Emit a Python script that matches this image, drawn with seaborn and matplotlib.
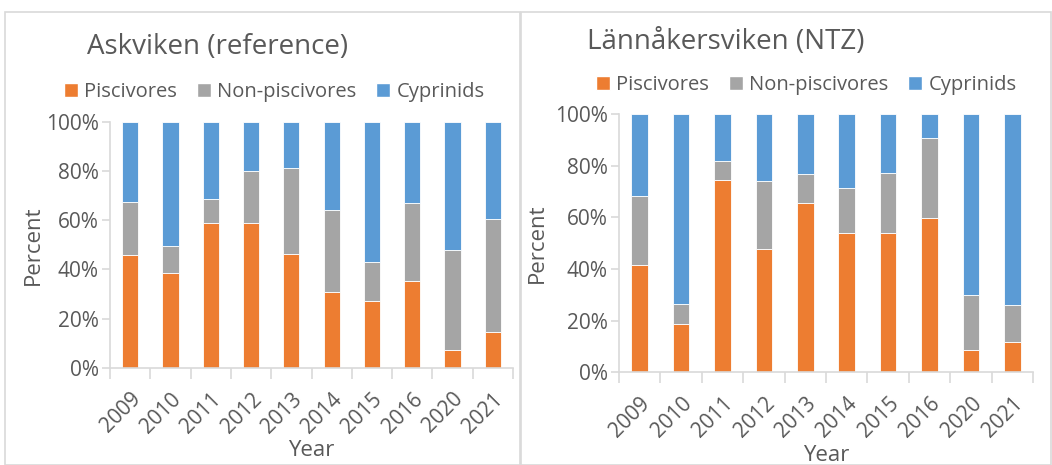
import matplotlib
matplotlib.use("Agg")
import matplotlib.pyplot as plt
import seaborn as sns
import numpy as np
from matplotlib.patches import Patch, Rectangle
from matplotlib.ticker import FuncFormatter, FixedLocator

years = ["2009", "2010", "2011", "2012", "2013", "2014", "2015", "2016", "2020", "2021"]
series = ["Piscivores", "Non-piscivores", "Cyprinids"]
colors = ["#ED7D31", "#A5A5A5", "#5B9BD5"]

# Askviken (reference), percent of catch
ask_pisc = [45.7, 38.5, 58.9, 58.7, 46.3, 30.6, 27.0, 35.4, 7.2, 14.4]
ask_nonp = [21.5, 10.8, 9.5, 21.1, 34.7, 33.4, 16.1, 31.7, 40.5, 46.0]
ask_cyp = [32.8, 50.7, 31.6, 20.2, 19.0, 36.0, 56.9, 32.9, 52.3, 39.6]

# Lännåkersviken (NTZ)
lan_pisc = [41.7, 18.8, 74.3, 47.6, 65.4, 53.8, 53.8, 59.7, 8.5, 11.6]
lan_nonp = [26.4, 7.5, 7.4, 26.3, 11.2, 17.4, 23.2, 30.9, 21.4, 14.5]
lan_cyp = [31.9, 73.7, 18.3, 26.1, 23.4, 28.8, 23.0, 9.4, 70.1, 73.9]

sns.set_theme(style="white")
plt.rcParams["font.family"] = ["Open Sans", "DejaVu Sans"]
txt = "#595959"
axc = "#D9D9D9"

fig = plt.figure(figsize=(10.52, 4.65), dpi=100)

# chart frames
fig.patches.append(Rectangle((5 / 1052, 0), 515 / 1052, 453 / 465, transform=fig.transFigure,
                             fill=False, edgecolor=axc, linewidth=1.2))
fig.patches.append(Rectangle((521 / 1052, 0), 530 / 1052, 453 / 465, transform=fig.transFigure,
                             fill=False, edgecolor=axc, linewidth=1.2))

ax1 = fig.add_axes([110 / 1052, 1 - 367.7 / 465, 403 / 1052, 246 / 465])
ax2 = fig.add_axes([619 / 1052, 1 - 372.3 / 465, 414 / 1052, 258.3 / 465])

panels = [
    (ax1, "Askviken (reference)", [ask_pisc, ask_nonp, ask_cyp], (87, 47), (274, 92), 33, 450),
    (ax2, "Lännåkersviken (NTZ)", [lan_pisc, lan_nonp, lan_cyp], (587, 42), (806, 85), 537, 455),
]

for ax, title, vals, tpos, lpos, ylx, xly in panels:
    bottom = np.zeros(len(years))
    for v, c in zip(vals, colors):
        sns.barplot(x=years, y=v, bottom=bottom, color=c, width=0.4, ax=ax,
                    edgecolor="white", linewidth=0.6, saturation=1)
        bottom = bottom + np.array(v)
    ax.set_ylim(0, 100)
    ax.set_xlim(-0.5, len(years) - 0.5)
    ax.set_yticks([0, 20, 40, 60, 80, 100])
    ax.yaxis.set_major_formatter(FuncFormatter(lambda y, p: f"{y:.0f}%"))
    for s in ["top", "right"]:
        ax.spines[s].set_visible(False)
    for s in ["left", "bottom"]:
        ax.spines[s].set_color(axc)
        ax.spines[s].set_linewidth(1.2)
    ax.xaxis.set_minor_locator(FixedLocator(np.arange(-0.5, len(years), 1)))
    ax.tick_params(axis="x", which="major", length=0, labelsize=15, labelcolor=txt,
                   labelrotation=45, pad=15)
    ax.tick_params(axis="x", which="minor", length=8, color=axc, width=1.2, bottom=True)
    ax.tick_params(axis="y", length=6, color=axc, width=1.2, left=True, labelsize=15,
                   labelcolor=txt, pad=2)
    for lab in ax.get_xticklabels():
        lab.set_ha("right")
        lab.set_rotation_mode("anchor")
    ax.set_xlabel("Year", fontsize=16, color=txt)
    ax.set_ylabel("Percent", fontsize=16, color=txt)
    ax.xaxis.label.set_va("center")
    ax.yaxis.label.set_va("center")
    # place axis labels by figure pixel position
    ax.xaxis.set_label_coords((ax.get_position().x0 + ax.get_position().x1) / 2,
                              1 - xly / 465, transform=fig.transFigure)
    ax.yaxis.set_label_coords(ylx / 1052, (ax.get_position().y0 + ax.get_position().y1) / 2,
                              transform=fig.transFigure)
    fig.text(tpos[0] / 1052, 1 - tpos[1] / 465, title, fontsize=20, color=txt, va="center")
    handles = [Patch(facecolor=c, label=s) for s, c in zip(series, colors)]
    ax.legend(handles=handles, loc="center", ncol=3, frameon=False,
              bbox_to_anchor=(lpos[0] / 1052, 1 - lpos[1] / 465), bbox_transform=fig.transFigure,
              fontsize=14.5, labelcolor=txt, handlelength=0.7, handleheight=0.7,
              handletextpad=0.3, columnspacing=1.0)

fig.savefig("out.png", dpi=100)
